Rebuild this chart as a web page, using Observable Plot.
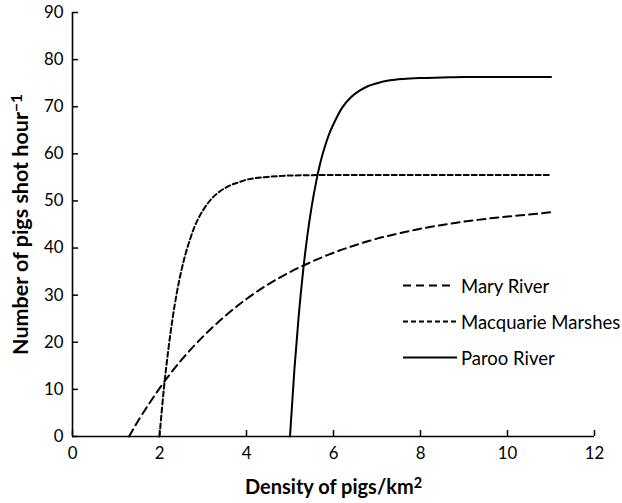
<!DOCTYPE html>
<html>
<head>
<meta charset="utf-8">
<script src="https://cdn.jsdelivr.net/npm/d3@7"></script>
<script src="https://cdn.jsdelivr.net/npm/@observablehq/plot@0.6"></script>
<style>
  body { margin: 0; background: #fff; }
  #wrap { position: relative; width: 622px; height: 503px; font-family: Lato, sans-serif; }
  #wrap svg { display: block; }
  #legend { position: absolute; left: 0; top: 0; pointer-events: none; }
</style>
</head>
<body>
<div id="wrap"></div>
<script>
// ---- data ----
const xTicks = [0, 2, 4, 6, 8, 10, 12];
const yTicks = [0, 10, 20, 30, 40, 50, 60, 70, 80, 90];
const seriesNames = ["Mary River", "Macquarie Marshes", "Paroo River"];

const maryDensity = [1.3, 1.5, 1.75, 2, 2.5, 3, 3.5, 4, 4.5, 5, 5.5, 6, 6.5, 7, 7.5, 8, 8.5, 9, 9.5, 10, 10.5, 11];
const maryShot    = [0, 3.2, 6.8, 10.2, 16.2, 21.2, 25.5, 29.2, 32.3, 34.9, 37.1, 39.0, 40.6, 42.0, 43.1, 44.1, 44.9, 45.6, 46.2, 46.7, 47.1, 47.6];

const macquarieDensity = [2, 2.1, 2.2, 2.3, 2.4, 2.5, 2.6, 2.7, 2.8, 2.9, 3, 3.2, 3.4, 3.6, 3.8, 4, 4.5, 5, 6, 8, 11];
const macquarieShot    = [0, 10.1, 18.2, 25.0, 30.6, 35.1, 38.8, 41.8, 44.4, 46.4, 48.0, 50.5, 52.1, 53.2, 53.9, 54.5, 55.1, 55.4, 55.5, 55.5, 55.5];

const parooDensity = [5, 5.1, 5.2, 5.3, 5.4, 5.5, 5.6, 5.7, 5.8, 5.9, 6, 6.2, 6.4, 6.6, 6.8, 7, 7.3, 7.6, 8, 8.5, 9, 10, 11];
const parooShot    = [0, 14.1, 25.6, 35.0, 42.7, 48.9, 54.0, 58.2, 61.5, 64.2, 66.3, 69.8, 72.0, 73.4, 74.4, 75.0, 75.6, 75.9, 76.1, 76.2, 76.3, 76.3, 76.3];

const xLabel = "Density of pigs/km";
const xLabelSup = "2";
const yLabel = "Number of pigs shot hour";
const yLabelSup = "\u22121";

// ---- build tables ----
const toRows = (xs, ys, name) => xs.map((x, i) => ({density: x, shot: ys[i], series: name}));
const mary = toRows(maryDensity, maryShot, seriesNames[0]);
const macquarie = toRows(macquarieDensity, macquarieShot, seriesNames[1]);
const paroo = toRows(parooDensity, parooShot, seriesNames[2]);

const dashes = {"Mary River": "8,5", "Macquarie Marshes": "5,3", "Paroo River": null};
const ink = "#000";

const W = 622, H = 503, mL = 72, mR = 28, mT = 12, mB = 67;
const tickLen = 6;

const chart = Plot.plot({
  width: W,
  height: H,
  marginLeft: mL,
  marginRight: mR,
  marginTop: mT,
  marginBottom: mB,
  style: {fontFamily: "Lato, sans-serif", fontSize: "16.8px", color: ink, background: "#fff", overflow: "visible"},
  x: {domain: [0, 12]},
  y: {domain: [0, 90]},
  marks: [
    Plot.axisX({ticks: xTicks, tickSize: 0, tickPadding: 11, label: null, tickFormat: d => String(d)}),
    Plot.axisY({ticks: yTicks, tickSize: 0, tickPadding: 9, label: null, tickFormat: d => String(d)}),
    // inward-pointing ticks, as in the reference
    Plot.tickX(xTicks, {x: d => d, stroke: ink, strokeWidth: 1.5, insetTop: (H - mT - mB) - tickLen}),
    Plot.tickY(yTicks, {y: d => d, stroke: ink, strokeWidth: 1.5, insetRight: (W - mL - mR) - tickLen}),
    Plot.ruleX([0], {stroke: ink, strokeWidth: 1.6}),
    Plot.ruleY([0], {stroke: ink, strokeWidth: 1.6}),
    Plot.line(mary, {x: "density", y: "shot", stroke: ink, strokeWidth: 2, strokeDasharray: dashes["Mary River"], curve: "monotone-x"}),
    Plot.line(macquarie, {x: "density", y: "shot", stroke: ink, strokeWidth: 2, strokeDasharray: dashes["Macquarie Marshes"], curve: "monotone-x"}),
    Plot.line(paroo, {x: "density", y: "shot", stroke: ink, strokeWidth: 2, curve: "monotone-x"}),
    Plot.text([xLabel], {text: d => d, frameAnchor: "bottom", textAnchor: "middle", lineAnchor: "middle", dy: 51, fontWeight: "bold", fontSize: 20, fill: ink}),
    Plot.text([yLabel], {text: d => d, frameAnchor: "left", textAnchor: "middle", lineAnchor: "middle", rotate: -90, dx: -51, fontWeight: "bold", fontSize: 21.5, fill: ink})
  ]
});

document.getElementById("wrap").appendChild(chart);

// superscripts on axis titles
function addSup(label, sup) {
  d3.select(chart).selectAll("text")
    .filter(function() { return this.textContent === label; })
    .append("tspan").attr("dy", "-0.42em").attr("font-size", "0.72em").text(sup);
}
addSup(xLabel, xLabelSup);
addSup(yLabel, yLabelSup);

// ---- legend (inside the plot area, like the reference) ----
const legend = d3.select("#wrap").append("svg")
  .attr("id", "legend")
  .attr("width", W).attr("height", H);
const legendLen = {"Mary River": 48, "Macquarie Marshes": 53, "Paroo River": 54};
seriesNames.forEach((name, i) => {
  const y = 285.5 + i * 36;
  legend.append("line")
    .attr("x1", 403).attr("x2", 403 + legendLen[name])
    .attr("y1", y).attr("y2", y)
    .attr("stroke", ink).attr("stroke-width", 2)
    .attr("stroke-dasharray", dashes[name]);
  legend.append("text")
    .attr("x", 461).attr("y", y + 7)
    .attr("font-family", "Lato, sans-serif").attr("font-size", 18.5)
    .attr("fill", ink)
    .text(name);
});
</script>
</body>
</html>
